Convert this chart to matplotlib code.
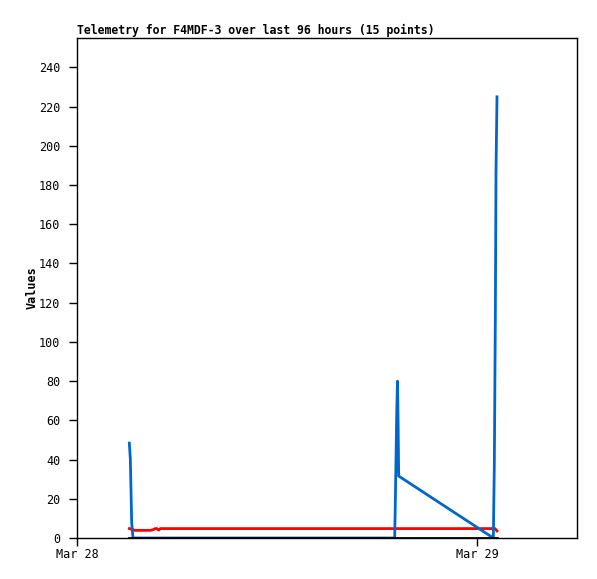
import pandas as pd
import matplotlib
matplotlib.use('Agg')
import matplotlib.pyplot as plt
import matplotlib.dates as mdates

base = pd.Timestamp('2024-03-28 00:00')

# blue series: hours after Mar 28 00:00, value
blue_hours = [3.14, 3.20, 3.24, 3.28, 3.36, 19.06, 19.09, 19.14, 19.19, 19.23, 19.27, 19.30,
              24.98, 25.04, 25.10, 25.14, 25.20]
blue_vals = [48.4, 40.2, 24.5, 8.0, 0.0, 0.0, 13.4, 40.0, 67.0, 80.0, 56.0, 31.6,
             0.0, 37.8, 112.0, 187.0, 225.0]

# red series
red_hours = [3.14, 3.48, 4.40, 4.55, 4.70, 4.80, 4.90, 5.00, 25.08, 25.20]
red_vals = [4.8, 3.9, 3.9, 4.2, 4.8, 4.8, 4.0, 4.8, 4.8, 3.6]

# black series
black_hours = [3.14, 25.20]
black_vals = [0.0, 0.0]

def to_time(h):
    return base + pd.to_timedelta(h, unit='h')

plt.rcParams['font.family'] = 'DejaVu Sans Mono'

fig = plt.figure(figsize=(5.97, 5.79), dpi=100)
ax = fig.add_axes([77 / 597, 1 - 538 / 579, 500 / 597, 500 / 579])

ax.plot(to_time(black_hours), black_vals, color='black', lw=2, zorder=3)
ax.plot(to_time(red_hours), red_vals, color='#ff0000', lw=2, zorder=2)
ax.plot(to_time(blue_hours), blue_vals, color='#0066cc', lw=2, zorder=2.5)

ax.set_xlim(base, base + pd.Timedelta(hours=30))
ax.set_ylim(0, 255)
ax.set_yticks(range(0, 241, 20))
ax.set_xticks([base, base + pd.Timedelta(days=1)])
ax.xaxis.set_major_formatter(mdates.DateFormatter('%b %d'))

ax.tick_params(direction='out', length=6, width=1, labelsize=8.5)
ax.tick_params(axis='y', pad=6)
ax.tick_params(axis='x', pad=1)
for s in ax.spines.values():
    s.set_linewidth(1)

ax.set_ylabel('Values', fontsize=8.5, fontweight='bold', labelpad=0)
ax.set_title('Telemetry for F4MDF-3 over last 96 hours (15 points)',
             fontsize=8.3, fontweight='bold', loc='left', pad=3)

fig.savefig('out.png', dpi=100)
